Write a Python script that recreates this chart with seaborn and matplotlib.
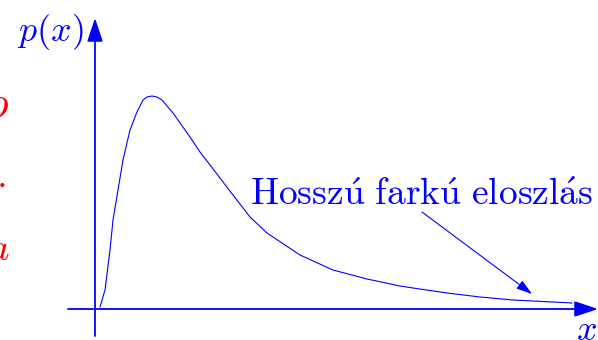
import matplotlib
matplotlib.use("Agg")
import matplotlib.pyplot as plt
import seaborn as sns
import pandas as pd

# long-tailed density (x from the y axis, height above the x axis)
xs = [5, 10, 15, 18, 23, 28, 35, 42, 48, 52, 57, 62, 67, 78, 95, 105, 115, 138,
      155, 172, 205, 238, 272, 305, 318, 352, 385, 418, 477]
ps = [2, 19, 59, 89, 119, 149, 179, 197, 209, 212, 213, 212, 209, 196, 172, 157, 144,
      114, 92, 76, 54, 39, 30, 23, 21, 16, 12, 9, 6]

label_text = r"$\mathrm{Hossz\acute{u}\ fark\acute{u}\ eloszl\acute{a}s}$"
blue = "#0000ff"

sns.set_theme(style="white")
plt.rcParams["mathtext.fontset"] = "cm"

fig = plt.figure(figsize=(5.98, 3.40), dpi=100)
ax = fig.add_axes([0, 0, 1, 1])
ax.set_xlim(-95, 503)
ax.set_ylim(-31, 309)
ax.axis("off")

df = pd.DataFrame({"x": xs, "p": ps})
sns.lineplot(data=df, x="x", y="p", color=blue, linewidth=0.8, ax=ax, sort=False)

# axes with arrow heads
arrow = dict(arrowstyle="-|>,head_length=1.2,head_width=0.4", color=blue, lw=1.3,
             shrinkA=0, shrinkB=0)
ax.annotate("", xy=(0, 291), xytext=(0, -27), arrowprops=arrow)
ax.annotate("", xy=(503, 0), xytext=(-27, 0), arrowprops=arrow)

ax.text(-45, 277, r"$p(x)$", color=blue, fontsize=26, ha="center", va="center")
ax.text(491, -21, r"$x$", color=blue, fontsize=26, ha="center", va="center")

ax.text(327, 104, label_text, color=blue, fontsize=27, ha="center", va="baseline")
ax.annotate("", xy=(437, 15), xytext=(327, 97),
            arrowprops=dict(arrowstyle="-|>,head_length=0.8,head_width=0.25",
                            color=blue, lw=0.8, shrinkA=0, shrinkB=0))

# clipped red marks at the left edge
ax.text(-86, 205, r"$o$", color="red", fontsize=32, ha="right", va="center")
ax.text(-89, 127, r"$\cdot$", color="red", fontsize=28, ha="right", va="center")
ax.text(-86, 60, r"$a$", color="red", fontsize=28, ha="right", va="center")

fig.savefig("out.png", dpi=100)
